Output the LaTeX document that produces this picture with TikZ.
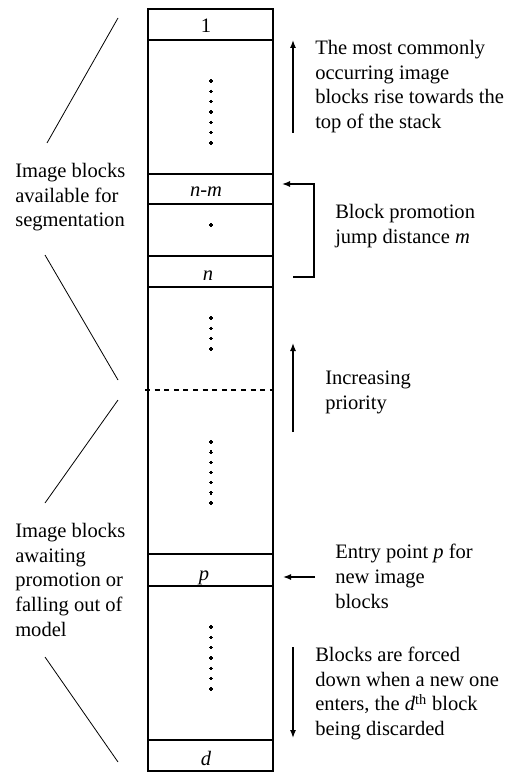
\documentclass[tikz,border=0pt]{standalone}
\usepackage{fontspec}
\setmainfont{Liberation Serif}
\usetikzlibrary{arrows.meta}
\begin{document}
\begin{tikzpicture}[x=0.75pt,y=-0.75pt,
  stackline/.style={line width=1.2pt},
  txt/.style={font=\fontsize{15.4}{18.4}\selectfont, inner sep=0pt, anchor=base west, align=left},
  celltxt/.style={font=\fontsize{15.4}{18.4}\selectfont\itshape, inner sep=0pt, anchor=base},
  arr/.style={line width=1pt, -{Latex[length=6pt,width=4.5pt]}},
  slant/.style={line width=0.6pt},
  dashline/.style={line width=1.2pt, dash pattern=on 3.8pt off 3.4pt}]
\useasboundingbox (0,0) rectangle (515,773);
% stack
\draw[stackline] (148,9) rectangle (273,771);
\foreach \yy in {40,174,204,256,287,554,586,740}
  \draw[stackline] (148,\yy) -- (273,\yy);
\draw[dashline] (145,390) -- (273,390);
% dots
\foreach \yy in {81,91.33,101.67,112,122.33,132.67,143,
                 225,
                 318,328.33,338.67,349,
                 442,452.17,462.33,472.5,482.67,492.83,503,
                 627,637.33,647.67,658,668.33,678.67,689}
  \draw[line width=0.9pt] (209.2,\yy) -- (212.8,\yy) (211,\yy-1.8) -- (211,\yy+1.8);
% cell labels
\node[celltxt,font=\fontsize{15.4}{18.4}\selectfont] (c1) at (206,33) {1};
\node[celltxt] (cnm) at (206,197) {n-m};
\node[celltxt] (cn) at (208,280) {n};
\node[celltxt] (cp) at (204,580) {p};
\node[celltxt] (cd) at (206,765) {d};
% left texts (anchor is the baseline of the last line)
\node[txt] (avail) at (15,227) {Image blocks\\available for\\segmentation};
\node[txt] (await) at (15,636) {Image blocks\\awaiting\\promotion or\\falling out of\\model};
% left slanted lines
\coordinate (s1a) at (47,143); \coordinate (s1b) at (118,18);
\coordinate (s2a) at (45,255); \coordinate (s2b) at (118,380);
\coordinate (s3a) at (45,503); \coordinate (s3b) at (118,400);
\coordinate (s4a) at (45,657); \coordinate (s4b) at (118,762);
\draw[slant] (s1a) -- (s1b);
\draw[slant] (s2a) -- (s2b);
\draw[slant] (s3a) -- (s3b);
\draw[slant] (s4a) -- (s4b);
% right texts
\node[txt] (rise) at (315,128.5) {The most commonly\\occurring image\\blocks rise towards the\\top of the stack};
\node[txt] (jump) at (335,243.5) {Block promotion\\jump distance \textit{m}};
\node[txt] (prio) at (325,409.5) {Increasing\\priority};
\node[txt] (entry) at (335,608) {Entry point \textit{p} for\\new image\\blocks};
\node[txt] (forced) at (315,735.5) {Blocks are forced\\down when a new one\\enters, the \textit{d}\textsuperscript{th} block\\being discarded};
% arrows
\coordinate (a1s) at (293,133); \coordinate (a1e) at (293,40);
\draw[arr] (a1s) -- (a1e);
\coordinate (bs) at (293,277); \coordinate (bc1) at (314,277);
\coordinate (bc2) at (314,184); \coordinate (be) at (282,184);
\draw[arr] (bs) -- (bc1) -- (bc2) -- (be);
\coordinate (a3s) at (293,432); \coordinate (a3e) at (293,343);
\draw[arr] (a3s) -- (a3e);
\coordinate (a4s) at (315,577); \coordinate (a4e) at (283,577);
\draw[arr] (a4s) -- (a4e);
\coordinate (a5s) at (293,647); \coordinate (a5e) at (293,738);
\draw[arr] (a5s) -- (a5e);
\end{tikzpicture}
\end{document}
